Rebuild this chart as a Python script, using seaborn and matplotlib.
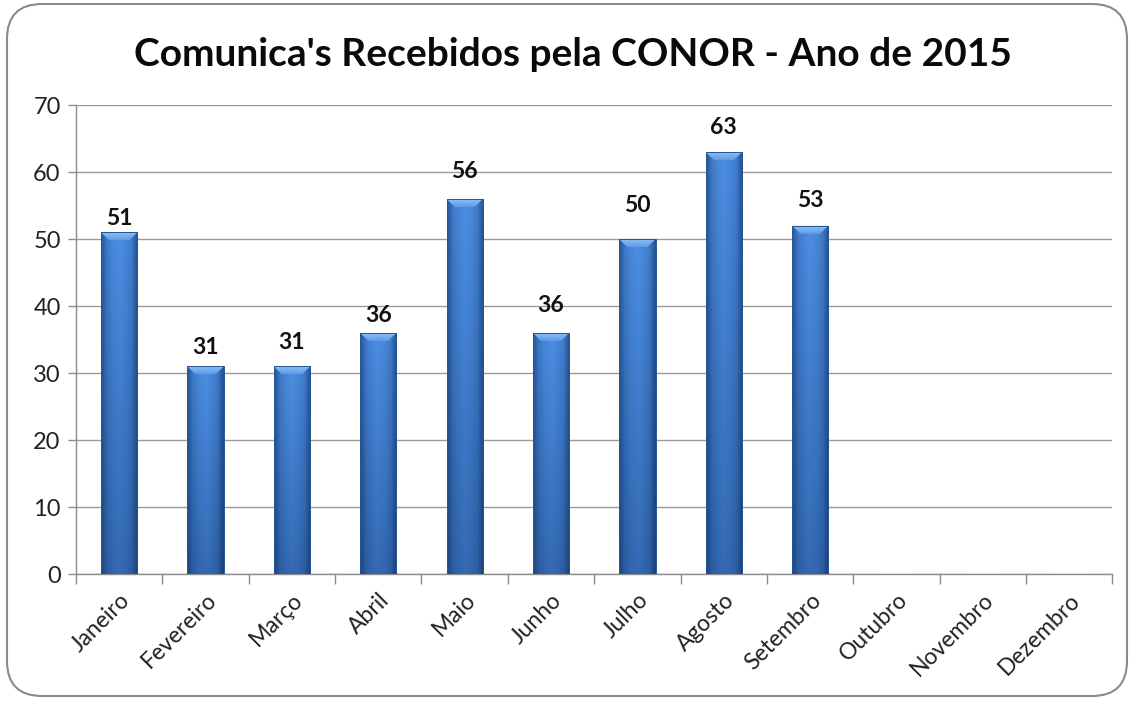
import numpy as np
import pandas as pd
import matplotlib
matplotlib.use("Agg")
import matplotlib.pyplot as plt
import seaborn as sns
from matplotlib.patches import FancyBboxPatch, Polygon
from matplotlib.ticker import MultipleLocator, FixedLocator

# dados
meses = ["Janeiro", "Fevereiro", "Março", "Abril", "Maio", "Junho",
         "Julho", "Agosto", "Setembro", "Outubro", "Novembro", "Dezembro"]
valores = [51, 31, 31, 36, 56, 36, 50, 63, 52, 0, 0, 0]
rotulos = ["51", "31", "31", "36", "56", "36", "50", "63", "53", "", "", ""]
titulo = "Comunica's Recebidos pela CONOR - Ano de 2015"

sns.set_theme(style="white")
plt.rcParams["font.family"] = ["Lato", "DejaVu Sans"]

df = pd.DataFrame({"mes": meses, "valor": valores})

fig = plt.figure(figsize=(11.34, 7.01), dpi=100)
ax = fig.add_axes([0.067, 0.181, 0.914, 0.669])

sns.barplot(data=df, x="mes", y="valor", color="#3a78c8", width=0.42,
            saturation=1, ax=ax, zorder=3)

ax.set_ylim(0, 70)
ax.set_xlim(-0.5, len(meses) - 0.5)

# degradê nas barras (estilo Excel): bordas escuras, topo mais claro
perfil = np.array([0.55, 0.85, 0.95, 1.0, 0.95, 0.85, 0.5])
cmap = matplotlib.colors.LinearSegmentedColormap.from_list(
    "barra", ["#16396b", "#2e62a8", "#4c8ee2"])
grad = np.interp(np.linspace(0, 1, 64), np.linspace(0, 1, len(perfil)), perfil)
cmap_chanfro = matplotlib.colors.LinearSegmentedColormap.from_list(
    "chanfro", ["#5d9ce8", "#92c2f6"])
for p in ax.patches:
    x0, y0 = p.get_x(), p.get_y()
    w, h = p.get_width(), p.get_height()
    if h <= 0:
        continue
    vert = np.linspace(0.72, 1.0, 64)[:, None]
    img = grad[None, :] * vert
    im = ax.imshow(img, cmap=cmap, vmin=0.3, vmax=1, aspect="auto",
                   extent=(x0, x0 + w, y0, y0 + h), origin="lower",
                   zorder=3.5, interpolation="bilinear")
    im.set_clip_path(p)
    # chanfro no topo
    dx, dy = w * 0.23, 1.2
    topo = Polygon([(x0, y0 + h), (x0 + w, y0 + h),
                    (x0 + w - dx, y0 + h - dy), (x0 + dx, y0 + h - dy)],
                   closed=True, facecolor="none", edgecolor="none", zorder=4)
    ax.add_patch(topo)
    im2 = ax.imshow(np.linspace(0, 1, 16)[:, None], cmap=cmap_chanfro,
                    aspect="auto", extent=(x0, x0 + w, y0 + h - dy, y0 + h),
                    origin="lower", zorder=4, interpolation="bilinear")
    im2.set_clip_path(topo)
    p.set_edgecolor("#2a5590")
    p.set_linewidth(0.7)
    p.set_zorder(4.5)
    p.set_facecolor("none")

ax.set_xlim(-0.5, len(meses) - 0.5)
ax.set_ylim(0, 70)

# rótulos de dados (no original foram arrastados à mão, por isso o deslocamento varia)
desloc_rotulos = [14, 19, 24, 17, 27, 27, 34, 25, 25, 0, 0, 0]
for i, (v, r) in enumerate(zip(valores, rotulos)):
    if r:
        ax.annotate(r, (i, v), xytext=(0, desloc_rotulos[i]),
                    textcoords="offset pixels", ha="center", va="center",
                    fontsize=16.5, fontweight="bold", color="#111111")

# grade e eixos
ax.yaxis.set_major_locator(MultipleLocator(10))
ax.grid(axis="y", color="#9a9a9a", linewidth=1.0, zorder=0)
ax.set_axisbelow(True)
for s in ["top", "right"]:
    ax.spines[s].set_visible(False)
for s in ["left", "bottom"]:
    ax.spines[s].set_color("#8c8c8c")
    ax.spines[s].set_linewidth(1.0)

ax.tick_params(axis="y", which="major", length=6, width=1, color="#8c8c8c",
               labelsize=17, labelcolor="#222222", pad=5, left=True)
ax.xaxis.set_minor_locator(FixedLocator(np.arange(-0.5, len(meses), 1.0)))
ax.tick_params(axis="x", which="major", length=0, labelsize=16.5,
               labelcolor="#222222", pad=11)
ax.tick_params(axis="x", which="minor", length=7, width=1, color="#8c8c8c",
               bottom=True)
plt.setp(ax.get_xticklabels(), rotation=45, ha="right", rotation_mode="anchor")

ax.set_xlabel("")
ax.set_ylabel("")

fig.text(0.505, 0.922, titulo, ha="center", va="center", fontsize=28,
         fontweight="bold", color="#0a0a0a")

# moldura arredondada
moldura = FancyBboxPatch((0.07, 0.05), 11.2, 6.92,
                         boxstyle="round,pad=0,rounding_size=0.35",
                         transform=fig.dpi_scale_trans, facecolor="none",
                         edgecolor="#8a8a8a", linewidth=1.5)
fig.patches.append(moldura)

fig.savefig("out.png", dpi=100)
plt.close(fig)
